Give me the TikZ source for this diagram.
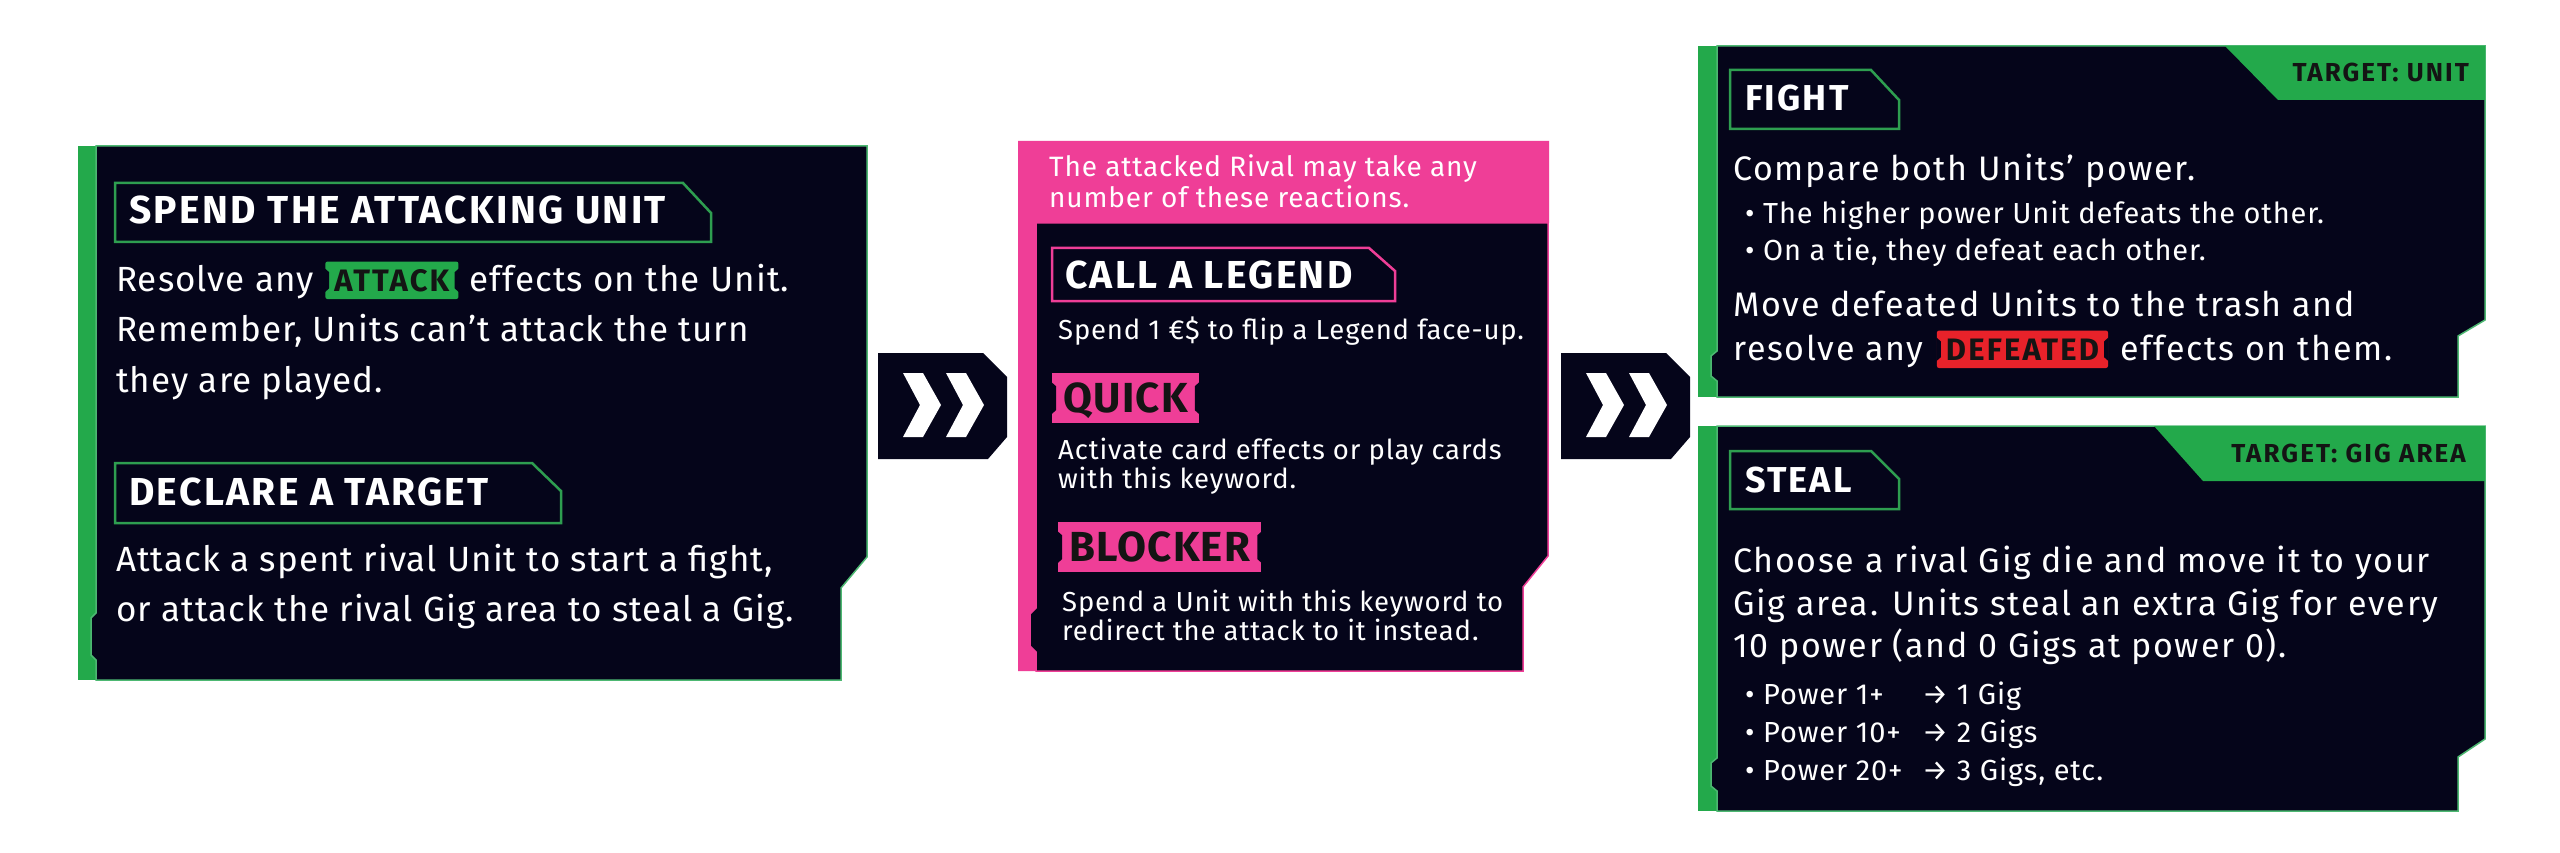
\documentclass[tikz,border=0pt]{standalone}
\usepackage{fontspec}
\setmainfont{Fira Sans}
\newfontfamily\condfont{Fira Sans}[LetterSpace=3]
\newfontfamily\sidefont{Fira Sans}[LetterSpace=5]
\newfontfamily\widefont{Fira Sans}[LetterSpace=3]
\newfontfamily\headfont{Fira Sans}[LetterSpace=6]
\newfontfamily\tagfont{Fira Sans}[LetterSpace=3]
\newfontfamily\inlinetagfont{Fira Sans}[LetterSpace=7]
\newfontfamily\labelfont{Fira Sans}[LetterSpace=8]
\definecolor{navy}{HTML}{05051A}
\definecolor{cgreen}{HTML}{23A94B}
\definecolor{lgreen}{HTML}{4DB872}
\definecolor{hgreen}{HTML}{2E9E50}
\definecolor{cpink}{HTML}{EF3E97}
\definecolor{cred}{HTML}{E8222A}
\definecolor{tagink}{HTML}{141414}

% inward notches on the sides of a keyword tag
\newcommand{\tagnotch}[2]{%
  \fill[navy] (#1.west) ++(-0.5,-#2) -- ++(4.5,4) -- ++(0,{2*#2-8}) -- ++(-4.5,4) -- cycle;
  \fill[navy] (#1.east) ++(0.5,-#2) -- ++(-4.5,4) -- ++(0,{2*#2-8}) -- ++(4.5,4) -- cycle;}

\tikzset{
  bodytext/.style={anchor=base west, inner sep=0pt, text=white, font=\condfont\fontsize{35}{35}\selectfont},
  fighttext/.style={bodytext, font=\sidefont\fontsize{34}{34}\selectfont},
  bullettext/.style={bodytext, font=\condfont\fontsize{29}{29}\selectfont},
  pinktext/.style={bodytext, font=\widefont\fontsize{27.5}{27.5}\selectfont},
  headtext/.style={anchor=base west, inner sep=0pt, text=white, font=\headfont\bfseries\fontsize{39}{39}\selectfont},
  targettext/.style={anchor=base east, inner sep=0pt, text=tagink, font=\labelfont\bfseries\fontsize{26}{26}\selectfont},
  smalltag/.style={anchor=base west, inner xsep=9pt, inner ysep=8pt, rounded corners=2pt, text=tagink,
    text height=21.4pt, text depth=0pt, font=\inlinetagfont\bfseries\fontsize{31}{31}\selectfont},
  bigtag/.style={anchor=north west, fill=cpink, inner xsep=11pt, inner ysep=10.5pt, text=tagink,
    text height=29pt, text depth=0pt, font=\tagfont\bfseries\fontsize{42}{42}\selectfont},
  panel/.style={fill=navy, draw=lgreen, line width=1.5pt},
  headbox/.style={draw=hgreen, line width=2.5pt}
}

\begin{document}
\begin{tikzpicture}[x=1pt, y=-1pt]
  \useasboundingbox (0,0) rectangle (2560,853);
  \fill[white] (0,0) rectangle (2560,853);

  % attacking unit panel
  \fill[cgreen] (78,146) rectangle (97,680);
  \draw[panel] (96,146) -- (867,146) -- (867,557) -- (841,588) -- (841,680) -- (96,680)
    -- (96,660) -- (91,655) -- (91,618) -- (96,613) -- cycle;
  \draw[headbox] (115,183) -- (683,183) -- (711,213) -- (711,242) -- (115,242) -- cycle;
  \node[headtext] (spend) at (129,224) {SPEND THE ATTACKING UNIT};
  \node[bodytext] (resolve) at (116,291) {Resolve any};
  \node[smalltag, fill=cgreen] (attack) at ([xshift=11pt]resolve.base east) {ATTACK};
  \tagnotch{attack}{12}
  \node[bodytext] (effects) at ([xshift=11pt]attack.base east) {effects on the Unit.};
  \node[bodytext] (remember) at (116,341) {Remember, Units can’t attack the turn};
  \node[bodytext] (played) at (116,392) {they are played.};
  \draw[headbox] (115,463) -- (532,463) -- (561,491) -- (561,523) -- (115,523) -- cycle;
  \node[headtext] (declare) at (129,505) {DECLARE A TARGET};
  \node[bodytext] (fightline) at (116,571) {Attack a spent rival Unit to start a fight,};
  \node[bodytext] (stealline) at (116,621) {or attack the rival Gig area to steal a Gig.};

  % arrows between the panels
  \foreach \dx in {0,683} {
    \fill[navy] (878+\dx,353) -- (983+\dx,353) -- (1007+\dx,377) -- (1007+\dx,437)
      -- (988+\dx,459) -- (878+\dx,459) -- cycle;
    \foreach \cx in {903,946}
      \fill[white] (\cx+\dx,373) -- (\cx+\dx+20,373) -- (\cx+\dx+38,405) -- (\cx+\dx+20,437)
        -- (\cx+\dx,437) -- (\cx+\dx+17,405) -- cycle;
  }

  % reactions panel
  \fill[cpink] (1018,141) -- (1549,141) -- (1549,223) -- (1036,223) -- (1036,671) -- (1018,671) -- cycle;
  \draw[panel, draw=cpink] (1036,223) -- (1548,223) -- (1548,556) -- (1523,587) -- (1523,671) -- (1036,671)
    -- (1036,652) -- (1030,646) -- (1030,614) -- (1036,608) -- cycle;
  \node[pinktext, font=\widefont\fontsize{28}{28}\selectfont] (rival) at (1049,177) {The attacked Rival may take any};
  \node[pinktext, font=\widefont\fontsize{28}{28}\selectfont] (reactions) at (1049,208) {number of these reactions.};
  \draw[headbox, draw=cpink] (1052,248) -- (1369,248) -- (1395,271) -- (1395,301) -- (1052,301) -- cycle;
  \node[headtext] (legend) at (1065,288) {CALL A LEGEND};
  \node[pinktext] (flip) at (1058,339) {Spend 1 €\$ to flip a Legend face-up.};
  \node[bigtag] (quick) at (1052,373) {QUICK};
  \tagnotch{quick}{16}
  \node[pinktext] (activate) at (1058,459) {Activate card effects or play cards};
  \node[pinktext] (keyword) at (1058,488) {with this keyword.};
  \node[bigtag] (blocker) at (1058,522) {BLOCKER};
  \tagnotch{blocker}{16}
  \node[pinktext] (redirect) at (1062,611) {Spend a Unit with this keyword to};
  \node[pinktext] (instead) at (1062,640) {redirect the attack to it instead.};

  % fight panel
  \fill[cgreen] (1698,46) rectangle (1718,397);
  \draw[panel] (1717,46) -- (2485,46) -- (2485,320) -- (2458,336) -- (2458,397) -- (1717,397)
    -- (1717,381) -- (1711,376) -- (1711,356) -- (1717,351) -- cycle;
  \fill[cgreen] (2225,46) -- (2485,46) -- (2485,100) -- (2278,100) -- cycle;
  \node[targettext] (tunit) at (2469,82) {TARGET: UNIT};
  \draw[headbox] (1730,70) -- (1871,70) -- (1899,100) -- (1899,129) -- (1730,129) -- cycle;
  \node[headtext, font=\headfont\bfseries\fontsize{36}{36}\selectfont] (fight) at (1745,111) {FIGHT};
  \node[fighttext] (compare) at (1733,181) {Compare both Units’ power.};
  \node[bullettext] (higher) at (1745,224) {\textbullet\ The higher power Unit defeats the other.};
  \node[bullettext] (tie) at (1745,261) {\textbullet\ On a tie, they defeat each other.};
  \node[fighttext] (trash) at (1733,316) {Move defeated Units to the trash and};
  \node[fighttext] (resolvedef) at (1733,360) {resolve any};
  \node[smalltag, fill=cred] (defeated) at ([xshift=13pt]resolvedef.base east) {DEFEATED};
  \tagnotch{defeated}{12}
  \node[fighttext] (onthem) at ([xshift=12pt]defeated.base east) {effects on them.};

  % steal panel
  \fill[cgreen] (1698,426) rectangle (1718,811);
  \draw[panel] (1717,426) -- (2485,426) -- (2485,739) -- (2458,757) -- (2458,811) -- (1717,811)
    -- (1717,791) -- (1711,786) -- (1711,763) -- (1717,758) -- cycle;
  \fill[cgreen] (2154,426) -- (2485,426) -- (2485,481) -- (2203,481) -- cycle;
  \node[targettext] (tgig) at (2466,462) {TARGET: GIG AREA};
  \draw[headbox] (1730,451) -- (1871,451) -- (1899,479) -- (1899,509) -- (1730,509) -- cycle;
  \node[headtext, font=\headfont\bfseries\fontsize{36}{36}\selectfont] (steal) at (1745,492) {STEAL};
  \node[fighttext] (choose) at (1733,572) {Choose a rival Gig die and move it to your};
  \node[fighttext] (extra) at (1733,615) {Gig area. Units steal an extra Gig for every};
  \node[fighttext] (tenpower) at (1733,657) {10 power (and 0 Gigs at power 0).};
  \node[bullettext] (pone) at (1745,704) {\textbullet\ Power 1+};
  \node[bullettext] (ponegig) at (1922,704) {→ 1 Gig};
  \node[bullettext] (pten) at (1745,742) {\textbullet\ Power 10+};
  \node[bullettext] (ptengig) at (1922,742) {→ 2 Gigs};
  \node[bullettext] (ptwenty) at (1745,780) {\textbullet\ Power 20+};
  \node[bullettext] (ptwentygig) at (1922,780) {→ 3 Gigs, etc.};
\end{tikzpicture}
\end{document}
